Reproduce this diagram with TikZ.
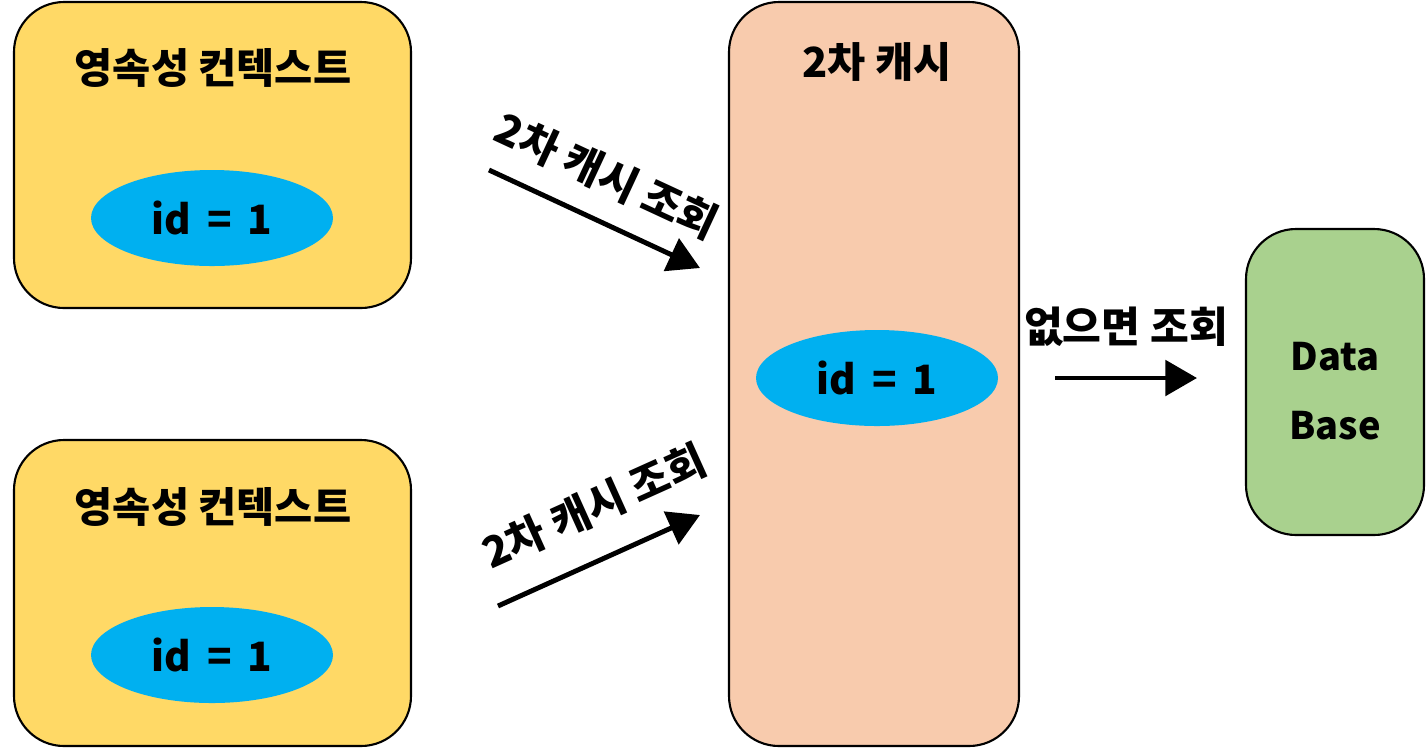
\documentclass[tikz,border=0pt]{standalone}
\usepackage{fontspec}
\setmainfont{Noto Sans CJK KR}
\usepackage{tikz}
\usetikzlibrary{shapes.geometric,arrows.meta,positioning}
\usepackage{xcolor}
\definecolor{CtxYellow}{RGB}{255,217,102}
\definecolor{EntBlue}{RGB}{0,176,240}
\definecolor{CachePeach}{RGB}{248,203,173}
\definecolor{DBGreen}{RGB}{169,209,142}

\begin{document}
\begin{tikzpicture}[
  box/.style={draw=black,line width=0.6pt,rounded corners=0.5cm},
  ctxbox/.style={box,fill=CtxYellow,minimum width=3.97cm,minimum height=3.06cm},
  entity/.style={ellipse,fill=EntBlue,minimum width=2.42cm,minimum height=0.96cm,
                 font=\fontsize{11.5}{13}\selectfont\bfseries},
  title/.style={font=\fontsize{11.8}{14}\selectfont\bfseries},
  lookup/.style={-{Triangle[length=9pt,width=10pt]},line width=1.4pt},
  lbl/.style={font=\fontsize{12}{14}\selectfont\bfseries},
]
\useasboundingbox (0,0) rectangle (14.26,7.49);
% persistence contexts
\node[ctxbox] (ctxA) at (2.125,5.94) {};
\node[title] (ctxAtitle) at (2.13,6.81) {영속성 컨텍스트};
\node[entity] (entA) at (2.12,5.31) {id \,=\, 1};
\node[ctxbox] (ctxB) at (2.125,1.56) {};
\node[title] (ctxBtitle) at (2.13,2.42) {영속성 컨텍스트};
\node[entity] (entB) at (2.12,0.94) {id \,=\, 1};
% second level cache
\node[box,fill=CachePeach,minimum width=2.90cm,minimum height=7.44cm] (cache) at (8.74,3.75) {};
\node[title] (cachetitle) at (8.77,6.87) {2차 캐시};
\node[entity] (entC) at (8.77,3.71) {id \,=\, 1};
% database
\node[box,fill=DBGreen,minimum width=1.78cm,minimum height=3.06cm] (db) at (13.35,3.67) {};
\node[align=center,font=\fontsize{10.8}{19.5}\selectfont\bfseries] (dbtext) at (13.35,3.58) {Data\\Base};
% lookups
\coordinate (qAs) at (4.89,5.79);
\coordinate (qAe) at (7.00,4.81);
\coordinate (qBs) at (4.98,1.43);
\coordinate (qBe) at (7.00,2.34);
\coordinate (qCs) at (10.55,3.71);
\coordinate (qCe) at (11.97,3.71);
\draw[lookup] (qAs) -- node[lbl,sloped,above=3pt,pos=0.47] {2차 캐시 조회} (qAe);
\draw[lookup] (qBs) -- node[lbl,sloped,above=5pt,pos=0.58] {2차 캐시 조회} (qBe);
\draw[lookup] (qCs) -- node[lbl,above=5pt] {없으면 조회} (qCe);
\end{tikzpicture}
\end{document}
